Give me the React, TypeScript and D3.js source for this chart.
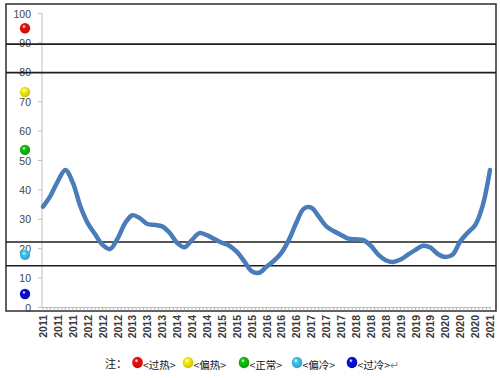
import React from "react";
import * as d3 from "d3";

// months since Jan 2011, every 2 months
const valueMonths: number[] = d3.range(0, 121, 2);
const values: number[] = [
  34.3, 38.0, 43.0, 46.8, 42.5, 34.5, 28.7, 24.9, 21.3, 19.9,
  23.4, 28.6, 31.4, 30.4, 28.4, 28.1, 27.6, 25.4, 22.0, 20.5,
  23.0, 25.3, 24.6, 23.3, 22.0, 21.0, 19.0, 15.8, 12.4, 11.8,
  13.9, 15.9, 18.6, 23.0, 28.8, 33.6, 34.0, 31.0, 27.7, 26.0,
  24.7, 23.4, 23.2, 22.9, 21.0, 18.0, 16.1, 15.5, 16.3, 18.0,
  19.6, 21.0, 20.4, 18.2, 17.2, 18.0, 22.5, 25.4, 28.0, 34.5,
  46.8,
];
const xLabels: string[] = [
  "2011", "2011", "2011", "2012", "2012", "2012", "2013", "2013", "2013",
  "2014", "2014", "2014", "2015", "2015", "2015", "2016", "2016", "2016",
  "2017", "2017", "2017", "2018", "2018", "2018", "2019", "2019", "2019",
  "2020", "2020", "2020", "2021",
];
const yTicks: number[] = [0, 10, 20, 30, 40, 50, 60, 70, 80, 90, 100];
const bandLines: number[] = [89.6, 79.9, 22.3, 14.2];
const markerValues: number[] = [95, 73.3, 53.6, 17.9, 4.6];
const markerColors: string[] = ["#f01010", "#f8f010", "#10c010", "#40c8f0", "#0a10d8"];
const legendLabels: string[] = ["<过热>", "<偏热>", "<正常>", "<偏冷>", "<过冷>"];

const W = 500;
const H = 378;

export default function App() {
  const y = d3.scaleLinear().domain([0, 100]).range([307.5, 13.5]);
  const x = d3.scaleLinear().domain([0, 120]).range([43, 490]);
  const pts: [number, number][] = valueMonths.map((m, i) => [m, values[i]]);
  const line = d3
    .line<[number, number]>()
    .x((d) => x(d[0]))
    .y((d) => y(d[1]))
    .curve(d3.curveCatmullRom.alpha(0.5));
  const monthTicks = d3.range(0, 121, 1);
  const legendDotX = [137.5, 188, 244, 297, 352];
  const font = "'Liberation Sans', Arial, sans-serif";
  const cjk = "'Noto Sans CJK SC', sans-serif";

  return (
    <svg
      width={W}
      height={H}
      style={{ position: "absolute", left: 0, top: 0, background: "#fff" }}
    >
      <defs>
        {markerColors.map((c, i) => (
          <radialGradient key={i} id={`ball${i}`} cx="40%" cy="35%" r="65%">
            <stop offset="0%" stopColor="#ffffff" stopOpacity={0.6} />
            <stop offset="25%" stopColor={c} />
            <stop offset="100%" stopColor={d3.color(c)!.darker(0.6).toString()} />
          </radialGradient>
        ))}
      </defs>
      <rect x={0} y={0} width={W} height={H} fill="#fff" />
      {/* frame */}
      <rect x={6} y={4} width={490} height={307} fill="none" stroke="#3a3a3a" strokeWidth={1.6} />
      {/* y axis */}
      <line x1={42} x2={42} y1={y(100)} y2={y(0)} stroke="#bfbfbf" strokeWidth={1} />
      {yTicks.map((t) => (
        <g key={t}>
          <line x1={38} x2={42} y1={y(t)} y2={y(t)} stroke="#bfbfbf" />
          <text
            x={31}
            y={y(t)}
            textAnchor="end"
            dominantBaseline="central"
            fontSize={10.5}
            fontFamily={font}
            fill="#444"
          >
            {t}
          </text>
        </g>
      ))}
      {/* x axis */}
      <line x1={42} x2={491} y1={y(0)} y2={y(0)} stroke="#bfbfbf" strokeWidth={1} />
      {monthTicks.map((m) => (
        <line key={m} x1={x(m)} x2={x(m)} y1={y(0)} y2={y(0) + 3} stroke="#a8a8a8" strokeWidth={0.8} />
      ))}
      {xLabels.map((l, i) => (
        <text
          key={i}
          transform={`translate(${x(i * 4)},315) rotate(-90)`}
          textAnchor="end"
          dominantBaseline="central"
          fontSize={10.5}
          fontWeight="bold"
          fontFamily={font}
          fill="#3a3a3a"
        >
          {l}
        </text>
      ))}
      {/* band lines */}
      {bandLines.map((v, i) => (
        <line key={i} x1={6} x2={496} y1={y(v)} y2={y(v)} stroke="#1e1e1e" strokeWidth={1.6} />
      ))}
      {/* markers */}
      {markerValues.map((v, i) => (
        <circle key={i} cx={25} cy={y(v)} r={5.2} fill={`url(#ball${i})`} />
      ))}
      {/* data line */}
      <path d={line(pts) || ""} fill="none" stroke="#4a7cba" strokeWidth={4.5} strokeLinejoin="round" strokeLinecap="round" />
      {/* legend */}
      <text x={105} y={363} dominantBaseline="central" fontSize={11} fontFamily={cjk} fill="#111">
        注：
      </text>
      {legendLabels.map((l, i) => (
        <g key={i}>
          <ellipse cx={legendDotX[i]} cy={362.5} rx={5.3} ry={5.8} fill={`url(#ball${i})`} />
          <text
            x={legendDotX[i] + 5.5}
            y={364}
            dominantBaseline="central"
            fontSize={10.5}
            fontFamily={cjk}
            fill="#111"
          >
            {l}
            {i === legendLabels.length - 1 ? <tspan fill="#888">↵</tspan> : null}
          </text>
        </g>
      ))}
    </svg>
  );
}
